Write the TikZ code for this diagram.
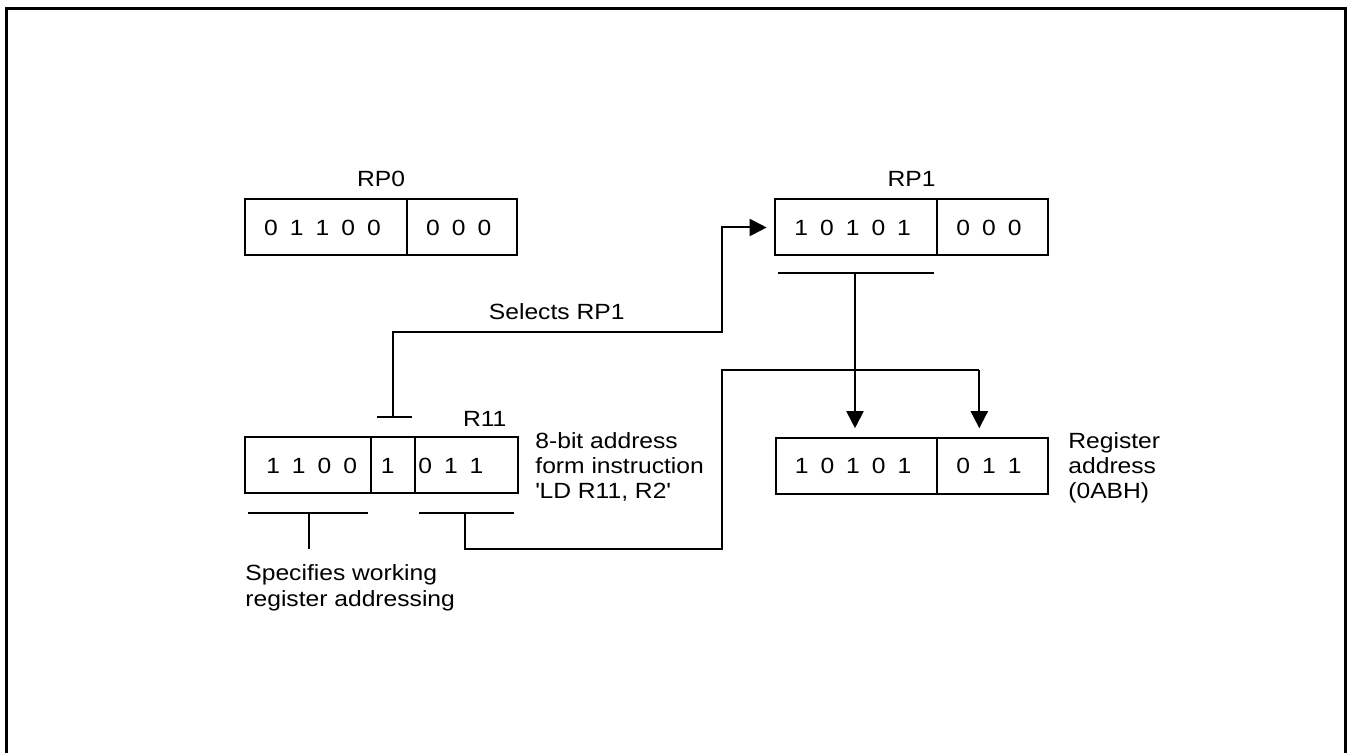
\documentclass[tikz,border=0pt]{standalone}
\usepackage{fontspec}
\setmainfont{Liberation Sans}[FakeStretch=1.12]
\usetikzlibrary{positioning,arrows.meta}

\begin{document}
\begin{tikzpicture}[x=0.5pt,y=-0.5pt,
	font=\fontsize{11}{12.6}\selectfont,
	bits/.style={shape=rectangle,draw=black,line width=1pt,outer sep=0pt,inner sep=1pt,minimum height=28pt,
		font={\fontsize{11}{12.6}\selectfont\spaceskip=6pt\relax},execute at end node={\hspace{3.5pt}}},
	conn/.style={draw=black,line width=1pt},
	tip/.style={-{Triangle[length=8.5pt,width=8.5pt]}},
	txt/.style={align=left,inner sep=0pt}]
	\useasboundingbox (0,0) rectangle (1351,753);
	\draw[line width=1.5pt] (6.7,753) |- (1345,8.3) -- (1345,753);
	\node[bits,minimum width=81pt] (rp0hi) at (326,227.5) {0 1 1 0 0};
	\node[bits,minimum width=55.2pt,right=0pt of rp0hi] (rp0lo) {0 0 0};
	\node[bits,minimum width=81.1pt] (rp1hi) at (856.2,227.5) {1 0 1 0 1};
	\node[bits,minimum width=55.2pt,right=0pt of rp1hi] (rp1lo) {0 0 0};
	\node[bits,minimum width=63.2pt] (r11a) at (308.2,465.5) {\hspace{7pt}1 1 0 0};
	\node[bits,minimum width=21.9pt,right=0pt of r11a] (r11b) {1\hspace*{2pt}};
	\node[bits,minimum width=51.2pt,right=0pt of r11b] (r11c) {\hspace{0.5pt}0 1 1\hspace*{12.5pt}};
	\node[bits,minimum width=80.7pt] (addrhi) at (856.6,466.2) {1 0 1 0 1};
	\node[bits,minimum width=55.2pt,right=0pt of addrhi] (addrlo) {0 1 1};
	\node[anchor=base] (rp0lbl) at (381,186.7) {RP0};
	\node[anchor=base] (rp1lbl) at (911.5,186.7) {RP1};
	\node[anchor=base east] (r11lbl) at (513.5,426.7) {R11};
	\node[anchor=base] (sellbl) at (556.7,319.3) {Selects RP1};
	\node[txt,anchor=north west] (fmtlbl) at (535,431.7) {8-bit address\\form instruction\\\textquotesingle LD R11, R2\textquotesingle};
	\node[txt,anchor=north west] (reglbl) at (1068,431.7) {Register\\address\\(0ABH)};
	\node[txt,anchor=north west] (spclbl) at (245,564.5) {Specifies working\\register addressing};
	\coordinate (selT) at (393.3,417.3);
	\coordinate (rp1brk) at (855,273.3);
	\coordinate (r11brk) at (465,513.3);
	\coordinate (spcbrk) at (309,513.3);
	\coordinate (lowturn) at (979.3,370);
	\draw[conn] (376.7,417.3) -- (411.7,417.3);
	\draw[conn,tip,shorten >=4.2pt] (selT) |- (721.7,332) |- (rp1hi.west);
	\draw[conn] (778,273.3) -- (934,273.3);
	\draw[conn,tip,shorten >=5pt] (rp1brk) -- (rp1brk |- addrhi.north);
	\draw[conn] (419,513.3) -- (513.7,513.3);
	\draw[conn] (r11brk) |- (721.7,549.3) |- (lowturn);
	\draw[conn,tip,shorten >=5pt] (lowturn) -- (lowturn |- addrlo.north);
	\draw[conn] (248.3,513.3) -- (367.7,513.3);
	\draw[conn] (spcbrk) -- (309,549.3);
\end{tikzpicture}
\end{document}
